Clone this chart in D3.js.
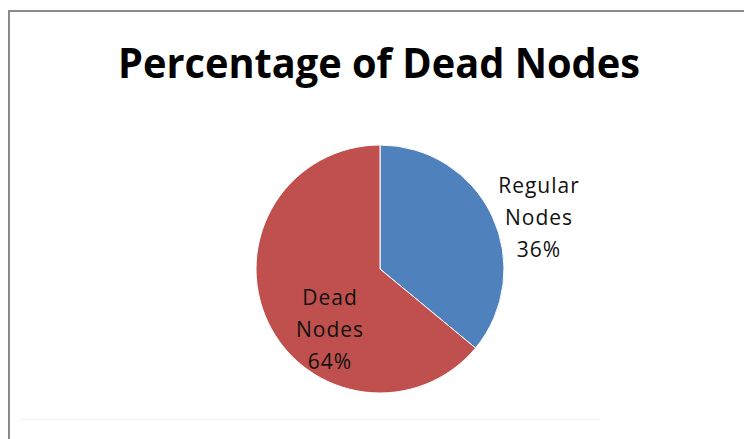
<!DOCTYPE html>
<html><head><meta charset="utf-8">
<script src="https://cdn.jsdelivr.net/npm/d3@7"></script>
<style>html,body{margin:0;padding:0;background:#fff;}svg{display:block;}</style>
</head><body>
<script>
const categories = ["Regular Nodes", "Dead Nodes"];
const values = [36, 64];
const labelLines = [["Regular", "Nodes", "36%"], ["Dead", "Nodes", "64%"]];
const title = "Percentage of Dead Nodes";
const colors = ["#4F81BD", "#C0504D"];

const W = 744, H = 439;
const svg = d3.select("body").append("svg").attr("width", W).attr("height", H);

// chart frame
svg.append("rect").attr("x", 9).attr("y", 11).attr("width", 800).attr("height", 500)
  .attr("fill", "#fff").attr("stroke", "#8a8a8a").attr("stroke-width", 2);
svg.append("line").attr("x1", 20).attr("x2", 600).attr("y1", 419.5).attr("y2", 419.5)
  .attr("stroke", "#f2f2f2").attr("stroke-width", 1);

// title
const t = svg.append("text").attr("x", 379).attr("y", 78).attr("text-anchor", "middle")
  .attr("font-family", "'Open Sans', sans-serif").attr("font-weight", "bold")
  .attr("font-size", 42).attr("fill", "#000").text(title);
t.attr("textLength", 522).attr("lengthAdjust", "spacingAndGlyphs");

// pie
const cx = 380, cy = 269, r = 124;
const pie = d3.pie().sort(null).value(d => d)(values);
const arc = d3.arc().innerRadius(0).outerRadius(r);
const g = svg.append("g").attr("transform", `translate(${cx},${cy})`);
g.selectAll("path").data(pie).join("path")
  .attr("d", arc).attr("fill", (d, i) => colors[i])
  .attr("stroke", "#fff").attr("stroke-width", 1);

// labels
const labelPos = [[539, 193], [330, 305]];
pie.forEach((d, i) => {
  const tx = svg.append("text").attr("text-anchor", "middle")
    .attr("font-family", "'Open Sans', sans-serif").attr("font-size", 21)
    .attr("fill", "#111").attr("letter-spacing", 1);
  labelLines[i].forEach((ln, j) => {
    tx.append("tspan").attr("x", labelPos[i][0]).attr("y", labelPos[i][1] + j * 32).text(ln);
  });
});
</script>
</body></html>
